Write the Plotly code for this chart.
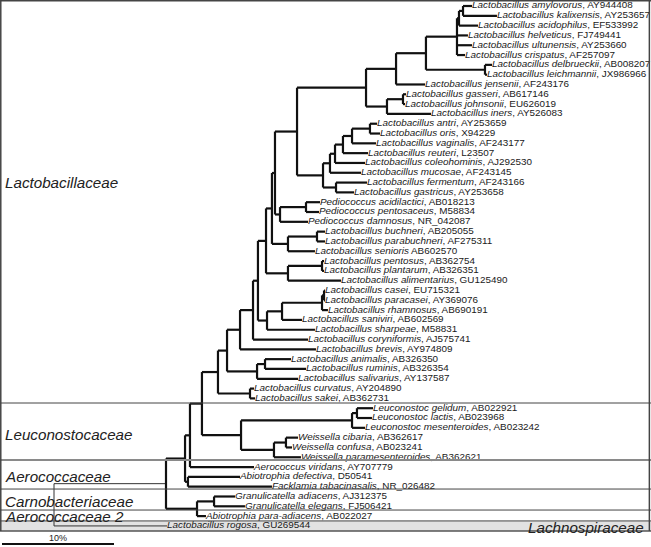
import plotly.graph_objects as go

# ---------------- data ----------------
species = [
    "Lactobacillus amylovorus", "Lactobacillus kalixensis", "Lactobacillus acidophilus",
    "Lactobacillus helveticus", "Lactobacillus ultunensis", "Lactobacillus crispatus",
    "Lactobacillus delbrueckii", "Lactobacillus leichmannii", "Lactobacillus jensenii",
    "Lactobacillus gasseri", "Lactobacillus johnsonii", "Lactobacillus iners",
    "Lactobacillus antri", "Lactobacillus oris", "Lactobacillus vaginalis",
    "Lactobacillus reuteri", "Lactobacillus coleohominis", "Lactobacillus mucosae",
    "Lactobacillus fermentum", "Lactobacillus gastricus", "Pediococcus acidilactici",
    "Pediococcus pentosaceus", "Pediococcus damnosus", "Lactobacillus buchneri",
    "Lactobacillus parabuchneri", "Lactobacillus senioris", "Lactobacillus pentosus",
    "Lactobacillus plantarum", "Lactobacillus alimentarius", "Lactobacillus casei",
    "Lactobacillus paracasei", "Lactobacillus rhamnosus", "Lactobacillus saniviri",
    "Lactobacillus sharpeae", "Lactobacillus coryniformis", "Lactobacillus brevis",
    "Lactobacillus animalis", "Lactobacillus ruminis", "Lactobacillus salivarius",
    "Lactobacillus curvatus", "Lactobacillus sakei", "Leuconostoc gelidum",
    "Leuconostoc lactis", "Leuconostoc mesenteroides", "Weissella cibaria",
    "Weissella confusa", "Weissella paramesenteroides", "Aerococcus viridans",
    "Abiotrophia defectiva", "Facklamia tabacinasalis", "Granulicatella adiacens",
    "Granulicatella elegans", "Abiotrophia para-adiacens", "Lactobacillus rogosa",
]
accessions = [
    "AY944408", "AY253657", "EF533992", "FJ749441", "AY253660", "AF257097",
    "AB008207", "JX986966", "AF243176", "AB617146", "EU626019", "AY526083",
    "AY253659", "X94229", "AF243177", "L23507", "AJ292530", "AF243145",
    "AF243166", "AY253658", "AB018213", "M58834", "NR_042087", "AB205055",
    "AF275311", "AB602570", "AB362754", "AB326351", "GU125490", "EU715321",
    "AY369076", "AB690191", "AB602569", "M58831", "AJ575741", "AY974809",
    "AB326350", "AB326354", "AY137587", "AY204890", "AB362731", "AB022921",
    "AB023968", "AB023242", "AB362617", "AB023241", "AB362621", "AY707779",
    "D50541", "NR_026482", "AJ312375", "FJ506421", "AB022027", "GU269544",
]
separators = [", "] * 25 + [" "] + [", "] * 28

# leaf -> parent node and cumulative distance from root (%)
leaf_parent = [
    "n463", "n463", "n459", "n457", "n457", "n457", "n485", "n485", "n396",
    "n403", "n403", "n387", "n370", "n370", "n352", "n343", "n335", "n330",
    "n336", "n336", "n306", "n306", "n280", "n317", "n317", "n288s", "n322p",
    "n322p", "n288p", "n324c", "n324c", "n322c", "n282", "n267", "n253", "n240",
    "n265", "n265", "n257", "n250", "n250", "n357", "n357", "n352l", "n286",
    "n286", "n274", "n190", "n188", "n188", "n214", "n214", "n197", "root",
]
leaf_depth = [
    37.32, 39.55, 37.86, 36.96, 37.32, 36.70, 39.11, 38.66, 33.13,
    31.43, 31.34, 33.66, 28.84, 29.11, 28.75, 28.04, 27.77, 27.41,
    27.95, 26.79, 23.75, 23.66, 22.68, 24.20, 24.20, 23.30, 24.11,
    24.11, 25.63, 24.20, 24.20, 24.46, 22.14, 23.30, 22.68, 23.39,
    21.16, 22.50, 21.79, 17.86, 17.95, 28.48, 28.39, 27.77, 21.79,
    21.25, 22.05, 17.86, 16.61, 19.46, 16.16, 17.05, 13.57, 10.09,
]

node_ids = [
    "root", "n166", "n185", "n190", "n202", "n218", "n227", "n240", "n253",
    "n258", "n266", "n272", "n275", "n297", "n366", "n396", "n426", "n457",
    "n459", "n463", "n485", "n387", "n403", "n323", "n330", "n335", "n343",
    "n352", "n370", "n336", "n280", "n306", "n288s", "n317", "n288p", "n322p",
    "n267", "n282", "n322c", "n324c", "n257", "n265", "n250", "n241", "n352l",
    "n357", "n274", "n286", "n188", "n197", "n214",
]
node_parent = [
    None, "root", "n166", "n185", "n190", "n202", "n218", "n227", "n240",
    "n253", "n258", "n266", "n272", "n275", "n297", "n366", "n396", "n426",
    "n457", "n459", "n426", "n366", "n387", "n297", "n323", "n330", "n335",
    "n343", "n352", "n323", "n275", "n280", "n272", "n288s", "n266", "n288p",
    "n258", "n267", "n282", "n322c", "n227", "n257", "n218", "n202", "n241",
    "n352l", "n241", "n274", "n185", "n166", "n197",
]
node_depth = [
    0.00, 10.00, 11.70, 12.14, 13.21, 14.64, 15.45, 16.61, 17.77,
    18.21, 18.93, 19.46, 19.73, 21.70, 27.86, 30.54, 33.21, 35.98,
    36.16, 36.52, 38.48, 29.73, 31.16, 24.02, 24.64, 25.09, 25.80,
    26.61, 28.21, 25.18, 20.18, 22.50, 20.89, 23.48, 20.89, 23.93,
    19.02, 20.36, 23.93, 24.11, 18.13, 18.84, 17.50, 16.70, 26.61,
    27.05, 19.64, 20.71, 11.96, 12.77, 14.29,
]

families = ["Lactobacillaceae", "Leuconostocaceae", "Aerococcaceae",
            "Carnobacteriaceae", "Aerococcaceae 2", "Lachnospiraceae"]
scale_length = 10  # %

# ---------------- layout helpers ----------------
W, H = 651, 547
PX_PER_UNIT = 11.2
ROOT_PX = 54
ROW = 9.81
TOP = 6
x_range = [-ROOT_PX / PX_PER_UNIT, (W - ROOT_PX) / PX_PER_UNIT]
y_range = [(H - TOP) / ROW, -TOP / ROW]
FONT = "Liberation Sans, Arial, sans-serif"

depth = {}
parent = {}
children = {}
for nid, p, d in zip(node_ids, node_parent, node_depth):
    depth[nid] = d
    parent[nid] = p
    children.setdefault(nid, [])
for i, (p, d) in enumerate(zip(leaf_parent, leaf_depth)):
    key = ("leaf", i)
    depth[key] = d
    parent[key] = p
for nid, p in zip(node_ids, node_parent):
    if p is not None:
        children[p].append(nid)
for i, p in enumerate(leaf_parent):
    children[p].append(("leaf", i))

ypos = {}


def get_y(k):
    if k in ypos:
        return ypos[k]
    if isinstance(k, tuple):
        ypos[k] = float(k[1])
    else:
        ys = [get_y(c) for c in children[k]]
        ypos[k] = (min(ys) + max(ys)) / 2.0
    return ypos[k]


for k in list(depth.keys()):
    get_y(k)

thick_x, thick_y, thin_x, thin_y = [], [], [], []
for k in depth:
    p = parent[k]
    if p is None:
        continue
    tx, ty = (thin_x, thin_y) if p == "root" else (thick_x, thick_y)
    tx += [depth[p], depth[k], None]
    ty += [ypos[k], ypos[k], None]
for nid in node_ids:
    ys = [ypos[c] for c in children[nid]]
    tx, ty = (thin_x, thin_y) if nid == "root" else (thick_x, thick_y)
    tx += [depth[nid], depth[nid], None]
    ty += [min(ys), max(ys), None]

fig = go.Figure()

# family bands / frame
b_lac_leu, b_leu_aer, b_aer_car, b_car_aer2, b_aer2_lach, b_bottom = 40.47, 46.28, 49.24, 51.38, 52.49, 53.52
shapes = [
    dict(type="rect", xref="paper", yref="y", x0=0, x1=1, y0=b_aer2_lach, y1=b_bottom,
         fillcolor="#e2e2e2", line=dict(width=0), layer="below"),
    dict(type="line", xref="paper", yref="y", x0=0, x1=1, y0=b_lac_leu, y1=b_lac_leu,
         line=dict(color="#444", width=1)),
    dict(type="line", xref="paper", yref="y", x0=0, x1=1, y0=b_leu_aer, y1=b_leu_aer,
         line=dict(color="#8a8a8a", width=2)),
    dict(type="line", xref="paper", yref="y", x0=0, x1=1, y0=b_aer_car, y1=b_aer_car,
         line=dict(color="#444", width=1)),
    dict(type="line", xref="paper", yref="y", x0=0, x1=1, y0=b_car_aer2, y1=b_car_aer2,
         line=dict(color="#444", width=1)),
    dict(type="line", xref="paper", yref="y", x0=0, x1=1, y0=b_aer2_lach, y1=b_aer2_lach,
         line=dict(color="#444", width=1)),
    # frame
    dict(type="line", xref="paper", yref="y", x0=0, x1=1, y0=b_bottom, y1=b_bottom,
         line=dict(color="#555", width=1.5)),
    dict(type="line", xref="paper", yref="paper", x0=0, x1=1, y0=0.999, y1=0.999,
         line=dict(color="#444", width=2)),
    dict(type="line", xref="paper", yref="y", x0=0.0012, x1=0.0012, y0=y_range[1], y1=b_bottom,
         line=dict(color="#444", width=1.5)),
    dict(type="line", xref="paper", yref="y", x0=0.9975, x1=0.9975, y0=y_range[1], y1=b_bottom,
         line=dict(color="#444", width=1.5)),
]

fig.add_trace(go.Scatter(x=thin_x, y=thin_y, mode="lines",
                         line=dict(color="#333", width=1), hoverinfo="skip"))
fig.add_trace(go.Scatter(x=thick_x, y=thick_y, mode="lines",
                         line=dict(color="#111", width=2.2), hoverinfo="skip"))

labels = [f"<i>{s}</i>{sep}{a}" for s, sep, a in zip(species, separators, accessions)]
fig.add_trace(go.Scatter(
    x=leaf_depth, y=list(range(len(species))), mode="text", text=labels,
    textposition="middle right",
    textfont=dict(family=FONT, size=9.9, color="#1a1a1a"),
    hoverinfo="skip"))

# scale bar
sb_start = x_range[0] + 2 / PX_PER_UNIT
sb_y = (544 - TOP) / ROW
fig.add_trace(go.Scatter(x=[sb_start, sb_start + scale_length], y=[sb_y, sb_y], mode="lines",
                         line=dict(color="#111", width=2), hoverinfo="skip"))

ann = []
fam_y = [18.04, 43.73, 47.91, 50.56, 51.99]
for name, yv in zip(families[:5], fam_y):
    ann.append(dict(x=0.004, xref="paper", y=yv, yref="y", text=f"<i>{name}</i>",
                    showarrow=False, xanchor="left", yanchor="middle",
                    font=dict(family=FONT, size=15.2, color="#222")))
ann.append(dict(x=0.993, xref="paper", y=53.15, yref="y", text=f"<i>{families[5]}</i>",
                showarrow=False, xanchor="right", yanchor="middle",
                font=dict(family=FONT, size=15.2, color="#222")))
ann.append(dict(x=sb_start + scale_length / 2, y=sb_y, yref="y", xref="x", text="10%",
                showarrow=False, xanchor="center", yanchor="bottom", yshift=-1,
                font=dict(family=FONT, size=9, color="#222")))

fig.update_layout(
    width=W, height=H, margin=dict(l=0, r=0, t=0, b=0),
    paper_bgcolor="white", plot_bgcolor="white", showlegend=False,
    xaxis=dict(range=x_range, visible=False, fixedrange=True),
    yaxis=dict(range=y_range, visible=False, fixedrange=True),
    shapes=shapes, annotations=ann,
)
fig.write_html("out.html", config={"displayModeBar": False},
               post_script="document.body.style.margin='0';document.body.style.overflow='hidden';")
